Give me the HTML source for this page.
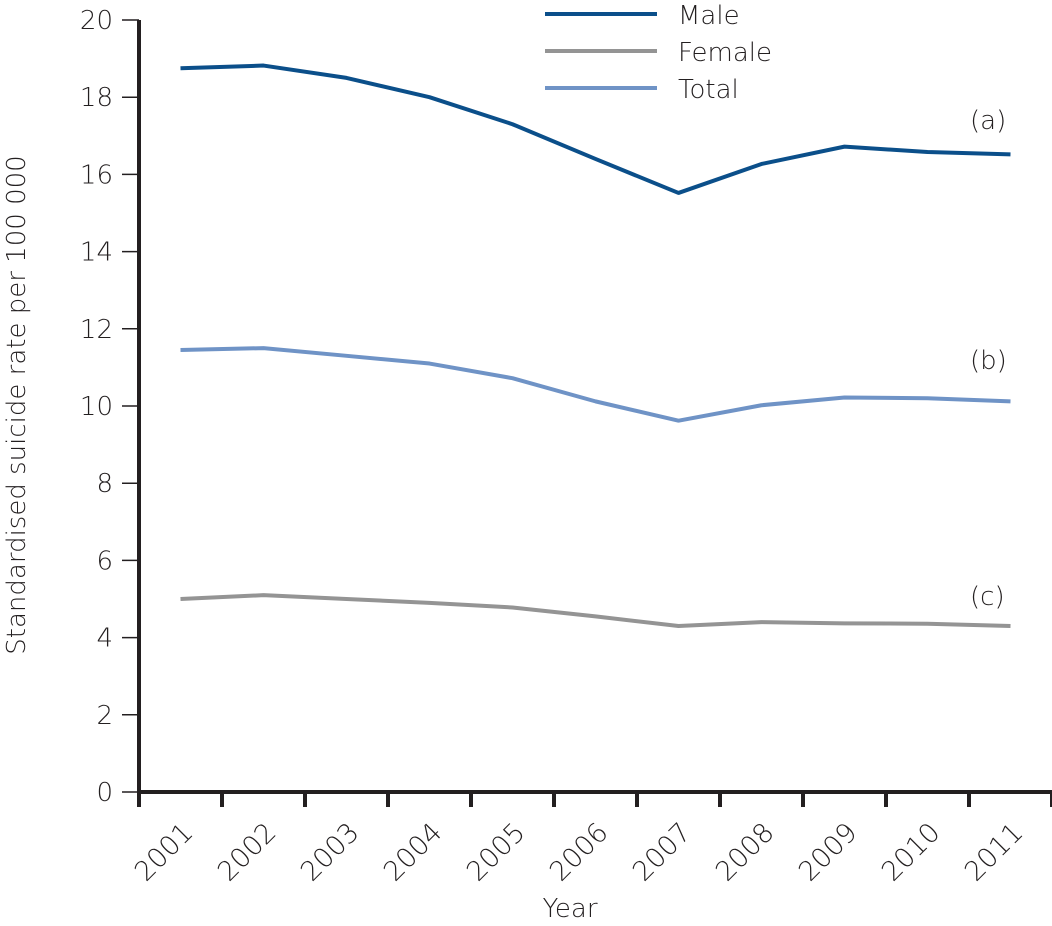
<!DOCTYPE html>
<html><head><meta charset="utf-8"><style>
body{margin:0;background:#fff;}
svg text{font-family:"DejaVu Sans","Liberation Sans",sans-serif;font-weight:200;fill:#231f20;}
</style></head><body>
<svg width="1052" height="921" id="chart">
<g id="axes"></g><g id="series"></g>
<g>
<line x1="545" y1="14" x2="657" y2="14" stroke="#0b4f8a" stroke-width="4"/>
<text x="678" y="24" font-size="26">Male</text>
<line x1="545" y1="51" x2="657" y2="51" stroke="#949494" stroke-width="4"/>
<text x="678" y="61" font-size="26">Female</text>
<line x1="545" y1="88" x2="657" y2="88" stroke="#6f93c6" stroke-width="4"/>
<text x="678" y="98" font-size="26">Total</text>
</g>
<text x="970" y="129" font-size="26">(a)</text>
<text x="970" y="369" font-size="26">(b)</text>
<text x="970" y="605" font-size="26">(c)</text>
<text x="570" y="917" font-size="26" text-anchor="middle">Year</text>
<text transform="translate(25,405) rotate(-90)" font-size="26" text-anchor="middle">Standardised suicide rate per 100 000</text>
</svg>
<script>
const years=["2001","2002","2003","2004","2005","2006","2007","2008","2009","2010","2011"];
const male=[18.75,18.82,18.5,18.0,17.3,16.4,15.52,16.27,16.72,16.58,16.52];
const total=[11.45,11.5,11.3,11.1,10.72,10.12,9.62,10.02,10.22,10.2,10.12];
const female=[5.0,5.1,5.0,4.9,4.78,4.55,4.3,4.4,4.37,4.36,4.3];
const yTicks=[0,2,4,6,8,10,12,14,16,18,20];
const NS="http://www.w3.org/2000/svg";
const x0=139,step=83,yBase=792,yTop=20,yMax=20;
const xs=i=>x0+step*(i+0.5);
const ys=v=>yBase-(v/yMax)*(yBase-yTop);
function mk(t,a,p){const e=document.createElementNS(NS,t);for(const k in a)e.setAttribute(k,a[k]);p.appendChild(e);return e;}
const axes=document.getElementById('axes');
const ya=mk('line',{x1:x0,y1:yTop,x2:x0,y2:yBase+2,stroke:'#231f20','stroke-width':4},axes);


const xa=mk('line',{x1:x0-2,y1:yBase,x2:1052,y2:yBase,stroke:'#231f20','stroke-width':4},axes);


yTicks.forEach(v=>{
 const l=mk('line',{x1:122,y1:ys(v),x2:x0,y2:ys(v),stroke:'#231f20','stroke-width':1.5},axes);
 
 
 const t=mk('text',{x:113,y:ys(v)+9,'font-size':26,'text-anchor':'end'},axes);
 t.textContent=v;
 
 
});
for(let i=0;i<=years.length;i++){
 const l=mk('line',{x1:x0+step*i,y1:yBase,x2:x0+step*i,y2:807,stroke:'#231f20','stroke-width':4},axes);
 
 
}
years.forEach((y,i)=>{
 const cx=xs(i)+14,cy=834;
 const t=mk('text',{x:cx,y:cy,'font-size':27,'text-anchor':'end',transform:`rotate(-45 ${cx} ${cy})`},axes);
 t.textContent=y;
 
 
});
const ser=document.getElementById('series');
[[male,'#0b4f8a','male-line'],[total,'#6f93c6','total-line'],[female,'#949494','female-line']].forEach(([d,c,n])=>{
 const p=mk('polyline',{points:d.map((v,i)=>xs(i)+','+ys(v)).join(' '),fill:'none',stroke:c,'stroke-width':4,'stroke-linejoin':'round'},ser);
 
 
});
</script>
</body></html>
